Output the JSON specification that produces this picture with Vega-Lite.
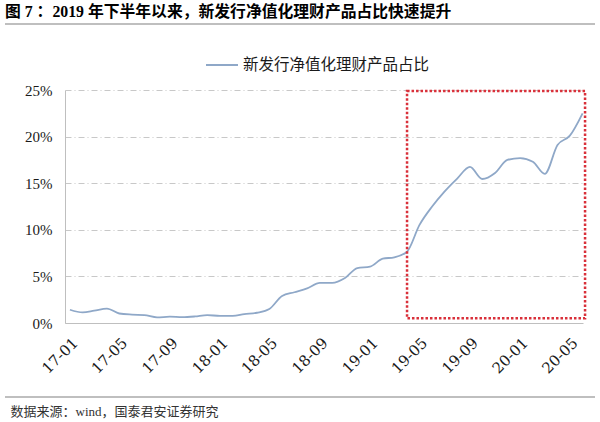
{
  "$schema": "https://vega.github.io/schema/vega-lite/v6.json",
  "background": "white",
  "autosize": {"type": "none"},
  "padding": {"left": 65, "top": 90, "right": 17, "bottom": 99},
  "width": 518,
  "height": 233,
  "config": {"font": "Noto Sans CJK SC", "view": {"stroke": null}},
  "title": {"text": "图 7 ：2019 年下半年以来，新发行净值化理财产品占比快速提升", "anchor": "start", "frame": "group", "dx": -60, "font": "Liberation Serif, Noto Sans CJK SC", "fontSize": 15.8, "fontWeight": "bold", "color": "#000000", "offset": 3},
  "data": {"values": [
    {"month": "2017/01/01", "share": 0.0142},
    {"month": "2017/02/01", "share": 0.0113},
    {"month": "2017/03/01", "share": 0.0132},
    {"month": "2017/04/01", "share": 0.0155},
    {"month": "2017/05/01", "share": 0.0102},
    {"month": "2017/06/01", "share": 0.0090},
    {"month": "2017/07/01", "share": 0.0085},
    {"month": "2017/08/01", "share": 0.0060},
    {"month": "2017/09/01", "share": 0.0068},
    {"month": "2017/10/01", "share": 0.0062},
    {"month": "2017/11/01", "share": 0.0070},
    {"month": "2017/12/01", "share": 0.0085},
    {"month": "2018/01/01", "share": 0.0076},
    {"month": "2018/02/01", "share": 0.0076},
    {"month": "2018/03/01", "share": 0.0095},
    {"month": "2018/04/01", "share": 0.0110},
    {"month": "2018/05/01", "share": 0.0150},
    {"month": "2018/06/01", "share": 0.0290},
    {"month": "2018/07/01", "share": 0.0330},
    {"month": "2018/08/01", "share": 0.0372},
    {"month": "2018/09/01", "share": 0.0430},
    {"month": "2018/10/01", "share": 0.0430},
    {"month": "2018/11/01", "share": 0.0482},
    {"month": "2018/12/01", "share": 0.0590},
    {"month": "2019/01/01", "share": 0.0605},
    {"month": "2019/02/01", "share": 0.0690},
    {"month": "2019/03/01", "share": 0.0705},
    {"month": "2019/04/01", "share": 0.0765},
    {"month": "2019/05/01", "share": 0.1050},
    {"month": "2019/06/01", "share": 0.1250},
    {"month": "2019/07/01", "share": 0.1410},
    {"month": "2019/08/01", "share": 0.1550},
    {"month": "2019/09/01", "share": 0.1675},
    {"month": "2019/10/01", "share": 0.1545},
    {"month": "2019/11/01", "share": 0.1610},
    {"month": "2019/12/01", "share": 0.1750},
    {"month": "2020/01/01", "share": 0.1770},
    {"month": "2020/02/01", "share": 0.1730},
    {"month": "2020/03/01", "share": 0.1600},
    {"month": "2020/04/01", "share": 0.1910},
    {"month": "2020/05/01", "share": 0.2010},
    {"month": "2020/06/01", "share": 0.2250}
  ]},
  "resolve": {"scale": {"x": "independent"}, "axis": {"x": "independent"}},
  "layer": [
    {
      "layer": [
        {
          "mark": {"type": "line", "interpolate": "monotone", "strokeWidth": 1.8},
          "encoding": {
            "x": {
              "field": "month", "type": "temporal",
              "scale": {"domain": [{"year": 2016, "month": 12, "date": 20}, {"year": 2020, "month": 6, "date": 2}]},
              "axis": {
                "grid": false, "ticks": false, "domainColor": "#bfbfbf", "domainWidth": 1,
                "format": "%y-%m", "labelAngle": -45, "labelOverlap": false,
                "labelFont": "DejaVu Serif", "labelFontSize": 15, "labelColor": "#1a1a1a", "labelPadding": 12,
                "title": "数据来源：wind，国泰君安证券研究", "titleAnchor": "start", "titleAlign": "left", "titleBaseline": "middle",
                "titleX": -55, "titleY": 88, "titleFont": "Liberation Serif, Noto Sans CJK SC", "titleFontSize": 13, "titleFontWeight": "normal", "titleColor": "#333333",
                "values": [
                  {"year": 2017, "month": 1, "date": 1}, {"year": 2017, "month": 3, "date": 1}, {"year": 2017, "month": 5, "date": 1},
                  {"year": 2017, "month": 7, "date": 1}, {"year": 2017, "month": 9, "date": 1}, {"year": 2017, "month": 11, "date": 1},
                  {"year": 2018, "month": 1, "date": 1}, {"year": 2018, "month": 3, "date": 1}, {"year": 2018, "month": 5, "date": 1},
                  {"year": 2018, "month": 7, "date": 1}, {"year": 2018, "month": 9, "date": 1}, {"year": 2018, "month": 11, "date": 1},
                  {"year": 2019, "month": 1, "date": 1}, {"year": 2019, "month": 3, "date": 1}, {"year": 2019, "month": 5, "date": 1},
                  {"year": 2019, "month": 7, "date": 1}, {"year": 2019, "month": 9, "date": 1}, {"year": 2019, "month": 11, "date": 1},
                  {"year": 2020, "month": 1, "date": 1}, {"year": 2020, "month": 3, "date": 1}, {"year": 2020, "month": 5, "date": 1}
                ]
              }
            },
            "y": {
              "field": "share", "type": "quantitative",
              "scale": {"domain": [0, 0.25], "nice": false},
              "axis": {
                "title": null, "values": [0, 0.05, 0.1, 0.15, 0.2, 0.25], "format": ".0%",
                "ticks": false, "domainColor": "#bfbfbf", "domainWidth": 1,
                "grid": true, "gridColor": "#c8c8c8", "gridDash": [6, 3, 1, 3], "gridWidth": 1,
                "labelFont": "Liberation Serif", "labelFontSize": 15, "labelColor": "#1a1a1a", "labelPadding": 13
              }
            },
            "color": {
              "datum": "新发行净值化理财产品占比",
              "scale": {"range": ["#8FA8C8"]},
              "legend": {
                "title": null, "orient": "none", "legendX": 140, "legendY": -42,
                "symbolType": "stroke", "symbolSize": 1024, "symbolStrokeWidth": 2, "labelLimit": 400,
                "labelFont": "Noto Sans CJK SC", "labelFontSize": 15.5, "labelColor": "#1a1a1a", "labelOffset": 4
              }
            }
          }
        },
        {
          "data": {"values": [{"start": "2019/04/01", "end": "2020/06/07", "low": 0.005, "high": 0.249}]},
          "mark": {"type": "rect", "fill": "transparent", "stroke": "#D9303A", "strokeWidth": 2.5, "strokeDash": [2.5, 2]},
          "encoding": {
            "x": {"field": "start", "type": "temporal"},
            "x2": {"field": "end"},
            "y": {"field": "low", "type": "quantitative"},
            "y2": {"field": "high"}
          }
        }
      ]
    },
    {
      "mark": {"type": "rule", "color": "#808080", "strokeWidth": 1.2, "clip": false},
      "encoding": {
        "x": {"aggregate": "min", "field": "month", "type": "temporal", "scale": {"range": [-60, 530], "nice": false}, "axis": null},
        "x2": {"aggregate": "max", "field": "month"},
        "y": {"datum": 0.3208}
      }
    },
    {
      "mark": {"type": "rule", "color": "#808080", "strokeWidth": 1.2, "clip": false},
      "encoding": {
        "x": {"aggregate": "min", "field": "month", "type": "temporal", "scale": {"range": [-60, 530], "nice": false}, "axis": null},
        "x2": {"aggregate": "max", "field": "month"},
        "y": {"datum": -0.0794}
      }
    }
  ]
}
